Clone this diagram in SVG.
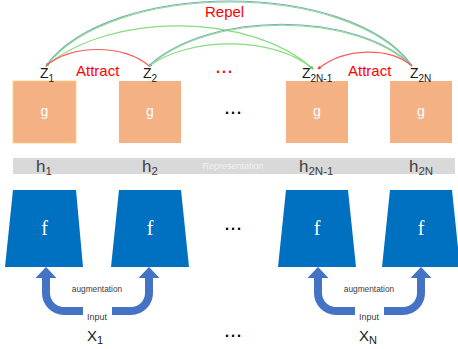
<svg xmlns="http://www.w3.org/2000/svg" width="458" height="349" viewBox="0 0 458 349">
  <style>
    .sans { font-family: "Liberation Sans", Arial, sans-serif; }
    .gbox { fill: #f4b183; }
    .fbox { fill: #0070c0; }
    .gtxt { font-family: "Liberation Sans", Arial, sans-serif; font-size: 14px; fill: #ffffff; text-anchor: middle; }
    .ftxt { font-family: "Liberation Serif", "Times New Roman", serif; font-size: 20px; fill: #ffffff; text-anchor: middle; }
    .zlab { font-family: "Liberation Sans", Arial, sans-serif; font-size: 14px; fill: #1a1a1a; }
    .hlab { font-family: "Liberation Sans", Arial, sans-serif; font-size: 17px; fill: #404040; }
    .xlab { font-family: "Liberation Sans", Arial, sans-serif; font-size: 15px; fill: #1a1a1a; }
    .red { font-family: "Liberation Sans", Arial, sans-serif; font-size: 15px; fill: #ff0000; }
    .small { font-family: "Liberation Sans", Arial, sans-serif; font-size: 8.3px; fill: #404040; text-anchor: middle; }
    .dots { font-family: "Liberation Sans", Arial, sans-serif; font-size: 21.6px; }
    .green { fill: none; stroke: #86dc7e; stroke-width: 1.1; }
    .blue { fill: none; stroke: #7fa6d8; stroke-width: 1.1; }
    .redc { fill: none; stroke: #ff5a5a; stroke-width: 1.1; }
    .shaft { fill: none; stroke: #4472c4; stroke-width: 8; }
    .head { fill: #4472c4; }
  </style>
  <defs>
    <marker id="hg" viewBox="0 0 6 6" refX="5" refY="3" markerWidth="3.5" markerHeight="3.5" markerUnits="userSpaceOnUse" orient="auto-start-reverse">
      <path d="M0,0 L6,3 L0,6 Z" fill="#5fc85a"/>
    </marker>
    <marker id="hb" viewBox="0 0 6 6" refX="5" refY="3" markerWidth="3.5" markerHeight="3.5" markerUnits="userSpaceOnUse" orient="auto-start-reverse">
      <path d="M0,0 L6,3 L0,6 Z" fill="#5a8fc0"/>
    </marker>
    <marker id="hr" viewBox="0 0 6 6" refX="5" refY="3" markerWidth="3.5" markerHeight="3.5" markerUnits="userSpaceOnUse" orient="auto-start-reverse">
      <path d="M0,0 L6,3 L0,6 Z" fill="#ff2020"/>
    </marker>
  </defs>

  <rect width="458" height="349" fill="#ffffff"/>

  <!-- representation band -->
  <g id="representation">
    <rect x="13" y="158" width="442" height="16" fill="#d9d9d9"/>
    <text class="sans" x="233" y="169" font-size="9" fill="#f2f2f2" text-anchor="middle">Representation</text>
  </g>

  <!-- projection heads g -->
  <g id="g1"><rect class="gbox" x="13" y="81" width="63" height="62" stroke="#f9cf7a" stroke-width="0.8"/><text class="gtxt" x="44.5" y="116">g</text></g>
  <g id="g2"><rect class="gbox" x="119" y="81" width="62" height="62"/><text class="gtxt" x="150" y="116">g</text></g>
  <g id="g3"><rect class="gbox" x="286" y="81" width="62" height="62"/><text class="gtxt" x="317" y="116">g</text></g>
  <g id="g4"><rect class="gbox" x="390" y="81" width="62" height="62"/><text class="gtxt" x="421" y="116">g</text></g>

  <!-- encoders f -->
  <g id="f1"><polygon class="fbox" points="13,190 76,190 83,267 5,267"/><text class="ftxt" x="44.5" y="235">f</text></g>
  <g id="f2"><polygon class="fbox" points="119,190 181,190 189,267 111,267"/><text class="ftxt" x="150" y="235">f</text></g>
  <g id="f3"><polygon class="fbox" points="286,190 348,190 356,267 278,267"/><text class="ftxt" x="317" y="235">f</text></g>
  <g id="f4"><polygon class="fbox" points="390,190 452,190 460,267 382,267"/><text class="ftxt" x="421" y="235">f</text></g>

  <!-- embedding labels -->
  <g id="z1"><text class="zlab" x="40" y="78">Z<tspan font-size="10" dy="4">1</tspan></text></g>
  <g id="z2"><text class="zlab" x="143" y="78">Z<tspan font-size="10" dy="4">2</tspan></text></g>
  <g id="z2n-1"><text class="zlab" x="302" y="78">Z<tspan font-size="10" dy="4">2N-1</tspan></text></g>
  <g id="z2n"><text class="zlab" x="410" y="78">Z<tspan font-size="10" dy="4">2N</tspan></text></g>

  <!-- representation labels -->
  <g id="h1"><text class="hlab" x="36" y="172">h<tspan font-size="11.5" dy="3">1</tspan></text></g>
  <g id="h2"><text class="hlab" x="142" y="172">h<tspan font-size="11.5" dy="3">2</tspan></text></g>
  <g id="h2n-1"><text class="hlab" x="299" y="172">h<tspan font-size="11.5" dy="3">2N-1</tspan></text></g>
  <g id="h2n"><text class="hlab" x="409" y="172">h<tspan font-size="11.5" dy="3">2N</tspan></text></g>

  <!-- inputs -->
  <g id="x1">
    <text class="small" x="97" y="292">augmentation</text>
    <text class="sans" x="97" y="320" font-size="9" fill="#404040" text-anchor="middle">Input</text>
    <text class="xlab" x="87" y="341">X<tspan font-size="11" dy="3">1</tspan></text>
  </g>
  <g id="xn">
    <text class="small" x="369" y="292">augmentation</text>
    <text class="sans" x="369" y="320" font-size="9" fill="#404040" text-anchor="middle">Input</text>
    <text class="xlab" x="359" y="341">X<tspan font-size="11" dy="3">N</tspan></text>
  </g>

  <!-- ellipses -->
  <text class="dots" x="215" y="73" fill="#ff0000">...</text>
  <text class="dots" x="224" y="114" fill="#000000">...</text>
  <text class="dots" x="224" y="230" fill="#000000">...</text>
  <text class="dots" x="224" y="337" fill="#000000">...</text>

  <!-- relation labels -->
  <text class="red" x="76" y="76">Attract</text>
  <text class="red" x="348" y="76">Attract</text>
  <text class="red" x="205" y="17">Repel</text>

  <g id="connectors">
    <!-- repel arcs -->
    <path class="blue" d="M46,65.5 C110,-20.5 350,-20.5 412,65.5"/>
    <path class="green" d="M46,66.5 C110,-19.5 350,-19.5 412,66.5" marker-start="url(#hg)"/>
    <path class="green" d="M46,66 C110,12 250,12 313,69" marker-start="url(#hg)" marker-end="url(#hg)"/>
    <path class="blue" d="M149,65.5 C210,10.5 355,10.5 412,65.5"/>
    <path class="green" d="M149,66.5 C210,11.5 355,11.5 412,66.5" marker-start="url(#hb)"/>
    <path class="green" d="M149,66 C190,36 275,36 313,69" marker-end="url(#hg)"/>
    <!-- attract arcs -->
    <path class="redc" d="M46,66 C70,44 125,44 149,66"/>
    <path class="redc" d="M412,66 C390,47 345,47 318,69" marker-end="url(#hr)"/>
    <!-- augmentation arrows -->
    <path class="shaft" d="M83,311 H64 A18,18 0 0 1 46,293 V277"/>
    <polygon class="head" points="35.5,278 56.5,278 46,267"/>
    <path class="shaft" d="M112,311 H131 A18,18 0 0 0 149,293 V277"/>
    <polygon class="head" points="138.5,278 159.5,278 149,267"/>
    <path class="shaft" d="M355,311 H336 A18,18 0 0 1 318,293 V277"/>
    <polygon class="head" points="307.5,278 328.5,278 318,267"/>
    <path class="shaft" d="M384,311 H403 A18,18 0 0 0 421,293 V277"/>
    <polygon class="head" points="410.5,278 431.5,278 421,267"/>
  </g>
</svg>
